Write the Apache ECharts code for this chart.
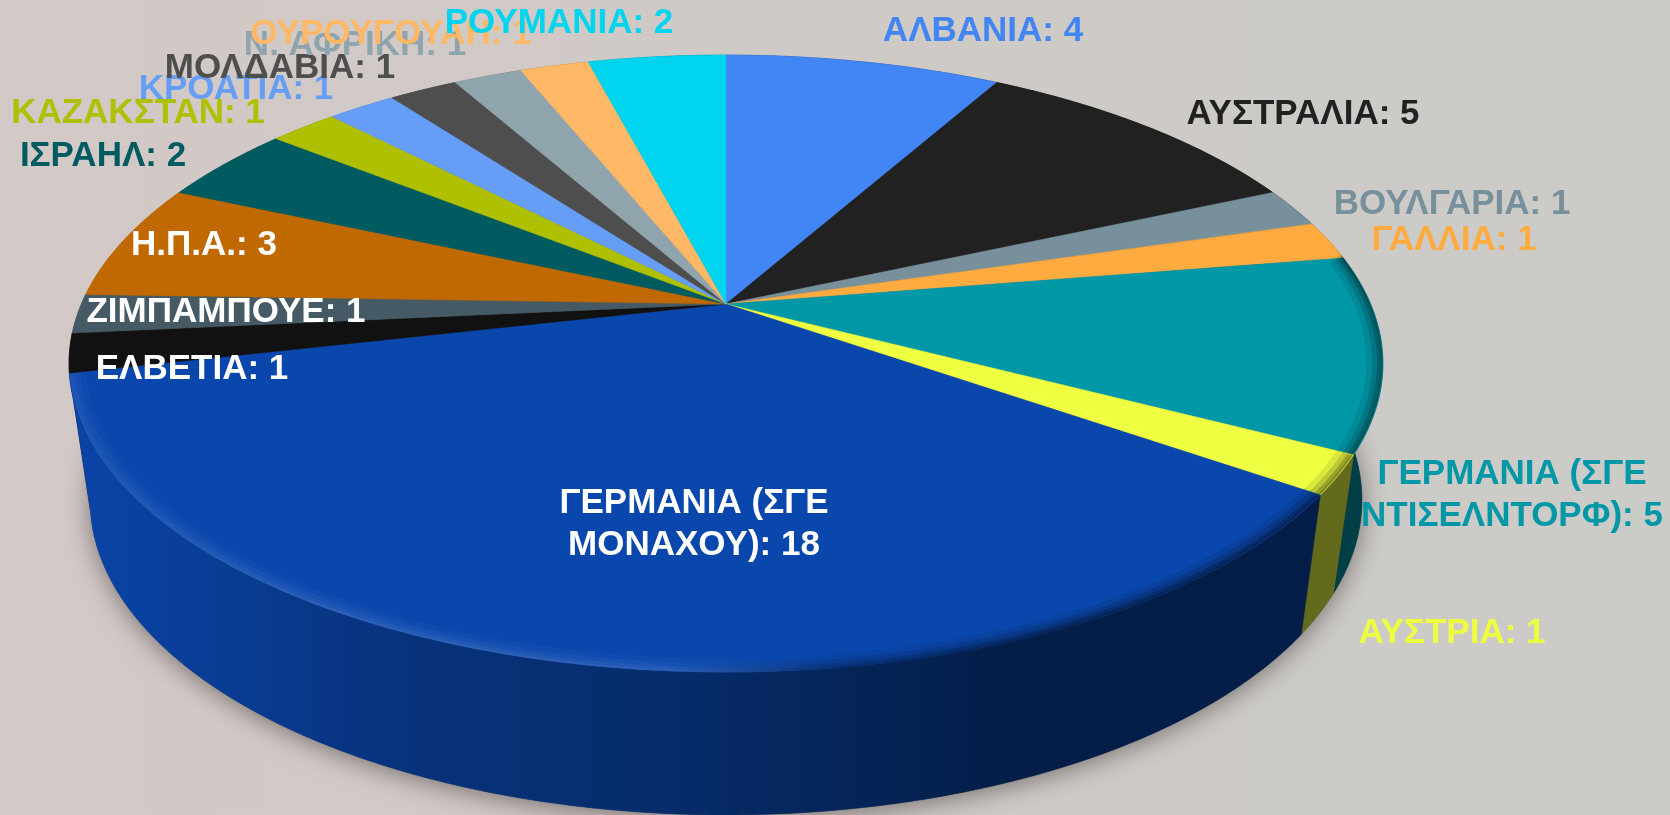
<!DOCTYPE html>
<html>
<head>
<meta charset="utf-8">
<style>
html, body { margin: 0; padding: 0; }
#chart { width: 1670px; height: 815px; }
</style>
<script src="https://cdn.jsdelivr.net/npm/echarts@6/dist/echarts.min.js"></script>
</head>
<body>
<div id="chart"></div>
<script>
const categories = ['ΑΛΒΑΝΙΑ', 'ΑΥΣΤΡΑΛΙΑ', 'ΒΟΥΛΓΑΡΙΑ', 'ΓΑΛΛΙΑ', 'ΓΕΡΜΑΝΙΑ (ΣΓΕ\nΝΤΙΣΕΛΝΤΟΡΦ)', 'ΑΥΣΤΡΙΑ',
    'ΓΕΡΜΑΝΙΑ (ΣΓΕ\nΜΟΝΑΧΟΥ)', 'ΕΛΒΕΤΙΑ', 'ΖΙΜΠΑΜΠΟΥΕ', 'Η.Π.Α.', 'ΙΣΡΑΗΛ', 'ΚΑΖΑΚΣΤΑΝ', 'ΚΡΟΑΤΙΑ', 'ΜΟΛΔΑΒΙΑ',
    'Ν. ΑΦΡΙΚΗ', 'ΟΥΡΟΥΓΟΥΑΗ', 'ΡΟΥΜΑΝΙΑ'];
const values = [4, 5, 1, 1, 5, 1, 18, 1, 1, 3, 2, 1, 1, 1, 1, 1, 2];
const colors = ['#4285f4', '#212121', '#78909c', '#ffab40', '#0097a7', '#eeff41', '#0a47ad', '#111111', '#455a64',
    '#bf6900', '#005b60', '#afc000', '#669df6', '#4e4e4e', '#90a4ae', '#ffb866', '#00d4ef'];
const labelColors = ['#4285f4', '#212121', '#78909c', '#ffab40', '#0097a7', '#eeff41', '#ffffff', '#ffffff', '#ffffff',
    '#ffffff', '#005b60', '#afc000', '#669df6', '#4e4e4e', '#90a4ae', '#ffb866', '#00d4ef'];
// label centres on the page, the source placed them by hand
const labelSpots = [[983, 31], [1303, 114], [1452, 204], [1454, 240], [1512, 495], [1452, 633], [694, 524], [192, 369],
    [226, 312], [204, 245], [103, 156], [138, 113], [236, 89], [280, 68], [355, 45], [391, 34], [559, 23]];
// slices whose front edge shows the bevel
const beveled = [4, 5, 6];

const CX = 726;
const PERSPECTIVE = 0.193;
const TOP_RIM = { x: 644.6, y: 297, cy: 304 };
const BOTTOM_RIM = { x: 624, y: 303, cy: 439.5 };

const total = values.reduce((a, b) => a + b, 0);
const toAngle = (n) => echarts.number.linearMap(n, [0, total], [0, Math.PI * 2]);

const starts = [];
values.reduce((sum, v, i) => {
    starts[i] = sum;
    return sum + v;
}, 0);

/** project an angle (clockwise from the top) onto a tilted rim, `scale` pulls it towards the middle */
const project = (angle, rim, scale = 1) => {
    const u = Math.sin(angle) * scale;
    const v = -Math.cos(angle) * scale;
    const w = 1 - PERSPECTIVE * v;
    return [CX + (rim.x * u) / w, rim.cy + (rim.y * v) / w];
};

const rimPoints = (from, to, rim, scale = 1) => {
    const steps = Math.max(2, Math.ceil((to - from) / 0.01));
    const pts = [];
    for (let s = 0; s <= steps; s++) {
        pts.push(project(from + ((to - from) * s) / steps, rim, scale));
    }
    return pts;
};

const shade = (hex, f) => {
    const n = parseInt(hex.slice(1), 16);
    const mix = (c) => Math.round(f <= 1 ? c * f : c + (255 - c) * (f - 1));
    return `rgb(${mix(n >> 16)},${mix((n >> 8) & 255)},${mix(n & 255)})`;
};

const ramp = (color, stops) => ({
    type: 'linear', x: 0, y: 0, x2: 1670, y2: 0, global: true,
    colorStops: stops.map(([offset, f]) => ({ offset, color: shade(color, f) })),
});

// the wall gets darker from left to right
const wallFill = (color) => ramp(color, [[0.06, 0.95], [0.12, 0.87], [0.21, 0.75], [0.27, 0.7], [0.42, 0.6], [0.48, 0.54], [0.6, 0.42], [1, 0.41]]);
// light edge on the left, soft dark edge on the right
const rimStroke = (color) => ramp(color, [[0, 1.1], [0.2, 1.16], [0.4, 1.16], [0.5, 0.62], [0.62, 0.41], [1, 0.41]]);

const slice = (i) => [toAngle(starts[i]), toAngle(starts[i] + values[i])];

const depthOrder = values
    .map((_, i) => i)
    .sort((a, b) => {
        const [a0, a1] = slice(a);
        const [b0, b1] = slice(b);
        return Math.cos((b0 + b1) / 2) - Math.cos((a0 + a1) / 2);
    });

const renderWall = (params, api) => {
    const i = api.value(0);
    const [from, to] = slice(i);
    const points = rimPoints(from, to, TOP_RIM).concat(rimPoints(from, to, BOTTOM_RIM).reverse());
    return {
        type: 'polygon',
        shape: { points },
        style: { fill: wallFill(colors[i]), stroke: wallFill(colors[i]), lineWidth: 0.5 },
    };
};

const renderTop = (params, api) => {
    const i = api.value(0);
    const [from, to] = slice(i);
    const arc = rimPoints(from, to, TOP_RIM);
    const children = [
        {
            type: 'polygon',
            shape: { points: [[CX, TOP_RIM.cy]].concat(arc) },
            style: { fill: colors[i], stroke: colors[i], lineWidth: 0.5 },
        },
    ];
    if (beveled.includes(i)) {
        // pulled in by half a line width so nothing spills over the edge of the disc
        for (const [lineWidth, opacity, scale] of [[14, 0.15, 0.986], [9, 0.25, 0.991], [5, 0.4, 0.995], [2, 0.6, 0.998]]) {
            children.push({
                type: 'polyline',
                shape: { points: rimPoints(from, to, TOP_RIM, scale) },
                style: { fill: null, stroke: rimStroke(colors[i]), lineWidth, opacity },
            });
        }
    }
    return { type: 'group', children };
};

const renderLabel = (params, api) => {
    const i = api.value(0);
    return {
        type: 'text',
        x: labelSpots[i][0],
        y: labelSpots[i][1],
        style: {
            text: `${categories[i]}: ${values[i]}`,
            fill: labelColors[i],
            font: 'bold 35px "Liberation Sans", Arial, sans-serif',
            align: 'center',
            verticalAlign: 'middle',
            lineHeight: 42,
        },
    };
};

const renderShadow = () => ({
    type: 'polygon',
    shape: { points: rimPoints(0, Math.PI * 2, BOTTOM_RIM) },
    style: { fill: '#555', shadowBlur: 24, shadowColor: 'rgba(40,30,30,0.5)', shadowOffsetY: 4 },
});

const chart = echarts.init(document.getElementById('chart'), null, { renderer: 'canvas' });
const indexed = values.map((_, i) => [i]);
chart.setOption({
    animation: false,
    backgroundColor: {
        type: 'linear', x: 0, y: 0, x2: 1, y2: 0,
        colorStops: [
            { offset: 0, color: '#d3c9c7' },
            { offset: 0.5, color: '#cfcac6' },
            { offset: 1, color: '#cbcbc7' },
        ],
    },
    tooltip: { show: false },
    series: [
        { type: 'custom', coordinateSystem: 'none', silent: true, data: [[0]], renderItem: renderShadow, z: 1 },
        { type: 'custom', coordinateSystem: 'none', silent: true, data: depthOrder.map((i) => [i]), renderItem: renderWall, z: 2 },
        { type: 'custom', coordinateSystem: 'none', silent: true, data: indexed, renderItem: renderTop, z: 3 },
        { type: 'custom', coordinateSystem: 'none', silent: true, data: indexed, renderItem: renderLabel, z: 4 },
    ],
});
</script>
</body>
</html>
